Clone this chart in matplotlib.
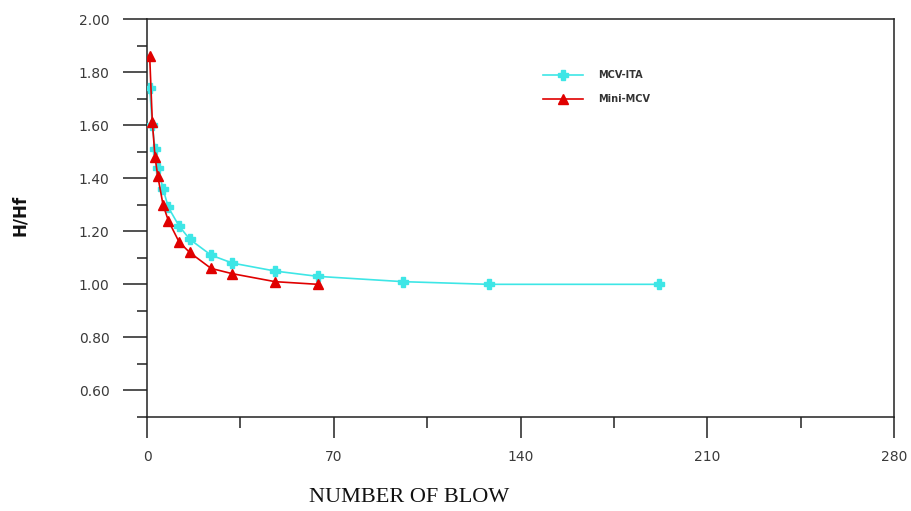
import matplotlib
matplotlib.use("Agg")
import matplotlib.pyplot as plt
from matplotlib.ticker import MultipleLocator, FormatStrFormatter

# blow counts and H/Hf ratios for both compaction devices
blows_ita = [1, 2, 3, 4, 6, 8, 12, 16, 24, 32, 48, 64, 96, 128, 192]
hhf_ita = [1.74, 1.60, 1.51, 1.44, 1.36, 1.29, 1.22, 1.17, 1.11, 1.08, 1.05, 1.03, 1.01, 1.00, 1.00]

blows_mini = [1, 2, 3, 4, 6, 8, 12, 16, 24, 32, 48, 64]
hhf_mini = [1.86, 1.61, 1.48, 1.41, 1.30, 1.24, 1.16, 1.12, 1.06, 1.04, 1.01, 1.00]

x_ticks = [0, 70, 140, 210, 280]
y_ticks = [0.60, 0.80, 1.00, 1.20, 1.40, 1.60, 1.80, 2.00]

cyan = '#3ee6e6'
red = '#e00000'
dark = '#222222'
label_col = '#3a3a3a'

fig = plt.figure(figsize=(9.12, 5.11), dpi=100)
ax = fig.add_axes([0.1612, 0.184, 0.8191, 0.7788])

ax.plot(blows_ita, hhf_ita, '-', color=cyan, lw=1.2, marker='P', ms=7,
        mec=cyan, mfc=cyan, label='MCV-ITA', zorder=3)
ax.plot(blows_mini, hhf_mini, '-', color=red, lw=1.2, marker='^', ms=7,
        mec=red, mfc=red, label='Mini-MCV', zorder=4)

ax.set_xlim(0, 280)
ax.set_ylim(0.5, 2.0)
ax.set_xticks(x_ticks)
ax.set_yticks(y_ticks)
ax.xaxis.set_minor_locator(MultipleLocator(35))
ax.yaxis.set_minor_locator(MultipleLocator(0.1))
ax.yaxis.set_major_formatter(FormatStrFormatter('%.2f'))

for s in ax.spines.values():
    s.set_color(dark)
    s.set_linewidth(1.1)

ax.tick_params(axis='y', which='major', direction='out', length=17, width=1.1,
               color=dark, pad=10, labelsize=10, labelcolor=label_col)
ax.tick_params(axis='y', which='minor', direction='out', length=7, width=1.1, color=dark)
ax.tick_params(axis='x', which='major', direction='out', length=15, width=1.1,
               color=dark, pad=9, labelsize=10, labelcolor=label_col)
ax.tick_params(axis='x', which='minor', direction='out', length=8, width=1.1, color=dark)

fig.text(20 / 912, 1 - 215 / 511, 'H/Hf', rotation=90, ha='center', va='center',
         fontsize=12, fontweight='bold', color='#111111')
fig.text(409 / 912, 1 - 498 / 511, 'NUMBER OF BLOW', ha='center', va='center',
         fontsize=16, family='Liberation Serif', color='#111111')

leg = ax.legend(loc='upper left', bbox_to_anchor=(543 / 912, 1 - 70 / 511),
                bbox_transform=fig.transFigure, frameon=False, fontsize=7,
                handlelength=4.1, handletextpad=1.6, labelspacing=1.45,
                borderpad=0, borderaxespad=0)
for t in leg.get_texts():
    t.set_color('#333333')
    t.set_fontweight('bold')

fig.savefig('out.png', dpi=100)
